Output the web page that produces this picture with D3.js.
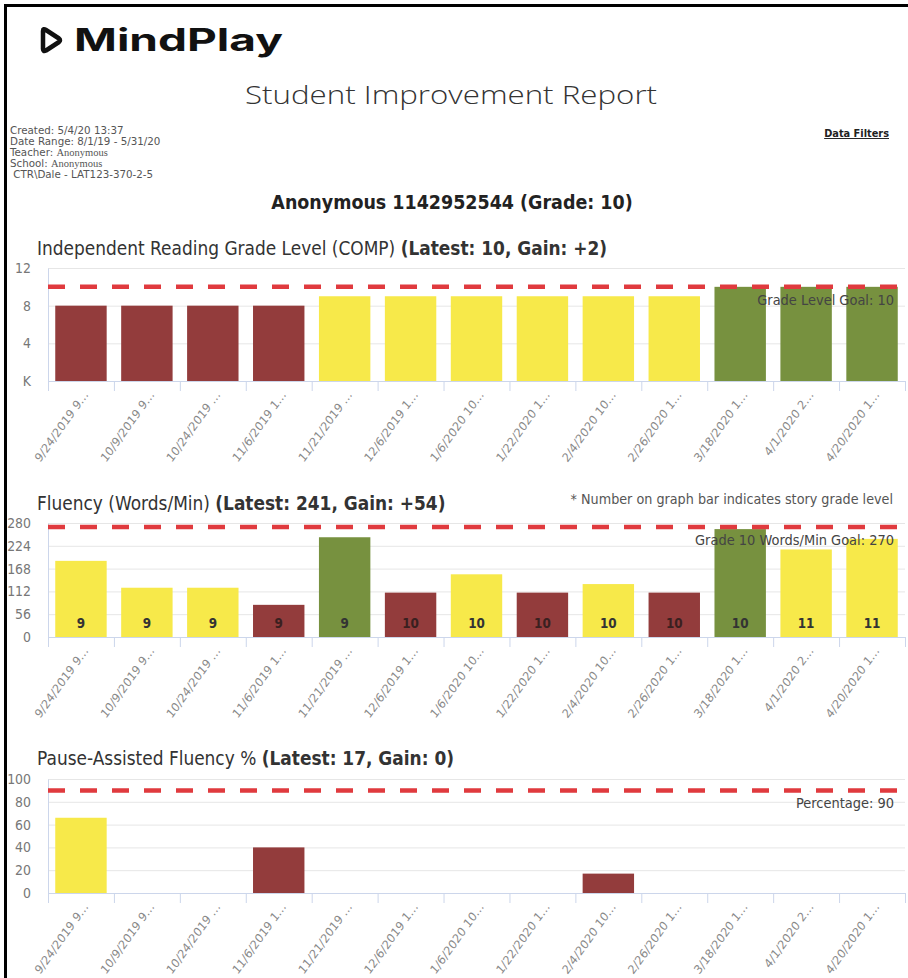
<!DOCTYPE html>
<html>
<head>
<meta charset="utf-8">
<script src="https://cdn.jsdelivr.net/npm/d3@7"></script>
<style>
  body { margin: 0; background: #fff; }
  svg { display: block; }
  text { font-family: "DejaVu Sans", sans-serif; }
</style>
</head>
<body>
<svg id="page" width="908" height="978"></svg>
<script>
// session dates (labels are cut short like in the report)
const dates = ["9/24/2019 9…", "10/9/2019 9…", "10/24/2019 …", "11/6/2019 1…", "11/21/2019 …",
  "12/6/2019 1…", "1/6/2020 10…", "1/22/2020 1…", "2/4/2020 10…", "2/26/2020 1…",
  "3/18/2020 1…", "4/1/2020 2…", "4/20/2020 1…"];

// chart 1: reading grade level
const readingLevel = [8, 8, 8, 8, 9, 9, 9, 9, 9, 9, 10, 10, 10];
const readingStatus = ["low", "low", "low", "low", "mid", "mid", "mid", "mid", "mid", "mid", "high", "high", "high"];
const readingTicks = [0, 4, 8, 12];
const readingTickLabels = ["K", "4", "8", "12"];

// chart 2: fluency words/min
const fluency = [187, 121, 121, 79, 245, 109, 154, 109, 130, 109, 265, 215, 241];
const fluencyStatus = ["mid", "mid", "mid", "low", "high", "low", "mid", "low", "mid", "low", "high", "mid", "mid"];
const storyGrade = [9, 9, 9, 9, 9, 10, 10, 10, 10, 10, 10, 11, 11];
const fluencyTicks = [0, 56, 112, 168, 224, 280];

// chart 3: pause-assisted fluency %
const pauseFluency = [66, null, null, 40, null, null, null, null, 17, null, null, null, null];
const pauseStatus = ["mid", null, null, "low", null, null, null, null, "low", null, null, null, null];
const pauseTicks = [0, 20, 40, 60, 80, 100];

const colors = { low: "#933c3c", mid: "#f7e94a", high: "#77913f" };
const S = 1.13; // the report screenshot is stretched vertically

const svg = d3.select("#page");

function stext(g, x, y, str) {
  return g.append("text")
    .attr("transform", `translate(${x},${y}) scale(1,${S})`)
    .text(str);
}

/* HEADER */
svg.append("path")
  .attr("d", "M5.5,978 V5.5 H908")
  .attr("fill", "none").attr("stroke", "#000").attr("stroke-width", 3);

svg.append("path")
  .attr("d", "M43,31 L43,49 Q43,52 46,50.5 L59,42 Q61,40 59,38.5 L46,30 Q43,28 43,31 Z")
  .attr("fill", "none").attr("stroke", "#111").attr("stroke-width", 4.5).attr("stroke-linejoin", "round");

svg.append("text")
  .attr("x", 74).attr("y", 51)
  .attr("textLength", 209).attr("lengthAdjust", "spacingAndGlyphs")
  .style("font-family", "Inter, 'DejaVu Sans', sans-serif")
  .style("font-weight", 700).style("font-size", "31px").attr("fill", "#111")
  .text("MindPlay");

stext(svg, 451, 104, "Student Improvement Report")
  .attr("text-anchor", "middle")
  .attr("textLength", 412).attr("lengthAdjust", "spacingAndGlyphs")
  .style("font-family", "'Open Sans', sans-serif").style("font-weight", 300)
  .style("font-size", "23px").attr("fill", "#333");

const meta = [["Created: 5/4/20 13:37", ""], ["Date Range: 8/1/19 - 5/31/20", ""],
  ["Teacher: ", "Anonymous"], ["School: ", "Anonymous"], [" CTR\\Dale - LAT123-370-2-5", ""]];
meta.forEach((m, i) => {
  const t = svg.append("text")
    .attr("x", 10).attr("y", 134 + i * 11)
    .style("font-size", "10.3px").attr("fill", "#555")
    .attr("xml:space", "preserve");
  t.append("tspan").text(m[0]);
  if (m[1]) t.append("tspan").style("font-family", "'Liberation Serif', serif").style("font-size", "10.5px").text(m[1]);
});

svg.append("text")
  .attr("x", 889).attr("y", 137)
  .attr("text-anchor", "end")
  .style("font-weight", 700).style("font-size", "9.8px").attr("fill", "#222")
  .style("text-decoration", "underline")
  .text("Data Filters");

stext(svg, 452, 209, "Anonymous 1142952544 (Grade: 10)")
  .attr("text-anchor", "middle")
  .style("font-weight", 700).style("font-size", "17.5px").attr("fill", "#222");

stext(svg, 893, 504, "* Number on graph bar indicates story grade level")
  .attr("text-anchor", "end").style("font-size", "12.8px").attr("fill", "#555");

/* CHARTS */
const left = 48, right = 905;

function drawChart(o) {
  const g = svg.append("g");

  const x = d3.scaleBand().domain(dates).range([left, right])
    .paddingInner(0.22).paddingOuter(0.11);
  const edges = d3.scaleLinear().domain([0, dates.length]).range([left, right]);
  const y = d3.scaleLinear().domain([0, o.yMax]).range([o.bottom, o.top]);

  // gridlines
  g.append("g")
    .attr("transform", `translate(${left},0)`)
    .call(d3.axisLeft(y).tickValues(o.ticks).tickSize(-(right - left)).tickFormat(""))
    .call(a => a.select(".domain").remove())
    .call(a => a.selectAll("line").attr("stroke", "#e6e6e6"));

  // y labels
  const ya = g.append("g")
    .attr("transform", `translate(${left},0)`)
    .call(d3.axisLeft(y).tickValues(o.ticks).tickSize(0).tickPadding(17)
      .tickFormat((d, i) => o.tickLabels ? o.tickLabels[i] : d));
  ya.select(".domain").attr("stroke", "#ccd6eb");
  ya.selectAll("text")
    .attr("transform", `scale(1,${S})`)
    .style("font-family", "'DejaVu Sans', sans-serif")
    .style("font-size", "12.5px").attr("fill", "#777");

  // bars
  const rows = o.values.map((v, i) => ({ date: dates[i], v, s: o.status[i], i }))
    .filter(d => d.v != null);
  g.selectAll("rect.bar").data(rows).enter().append("rect")
    .attr("class", "bar")
    .attr("x", d => x(d.date))
    .attr("y", d => y(d.v))
    .attr("width", x.bandwidth())
    .attr("height", d => y(0) - y(d.v))
    .attr("fill", d => colors[d.s]);

  if (o.barLabels) {
    rows.forEach(d => {
      stext(g, x(d.date) + x.bandwidth() / 2, y(0) - 9, o.barLabels[d.i])
        .attr("text-anchor", "middle")
        .style("font-weight", 700).style("font-size", "12px")
        .attr("fill", d.s === "low" ? "#3a2020" : "#333");
    });
  }

  // x axis with ticks between categories
  g.append("g")
    .attr("transform", `translate(0,${o.bottom})`)
    .call(d3.axisBottom(edges).tickValues(d3.range(dates.length + 1)).tickSize(10).tickFormat(""))
    .call(a => a.selectAll("line, .domain").attr("stroke", "#ccd6eb"));

  const xa = g.append("g")
    .attr("transform", `translate(0,${o.bottom})`)
    .call(d3.axisBottom(x).tickSize(0).tickPadding(0));
  xa.select(".domain").remove();
  xa.selectAll("text")
    .attr("x", 0).attr("y", 0).attr("dy", "0.35em")
    .attr("text-anchor", "end")
    .attr("transform", `translate(5,11) scale(1,${S}) rotate(-51)`)
    .style("font-family", "'DejaVu Sans', sans-serif")
    .style("font-size", "11px").attr("fill", "#888");

  // goal line
  g.append("line")
    .attr("x1", left).attr("x2", right)
    .attr("y1", y(o.goal)).attr("y2", y(o.goal))
    .attr("stroke", "#e03a3e").attr("stroke-width", 4.5)
    .attr("stroke-dasharray", "17,15");

  stext(g, 894, y(o.goal) + 18, o.goalLabel)
    .attr("text-anchor", "end").style("font-size", "13px").attr("fill", "#444");

  // title
  const t = stext(g, 37, o.titleY, "").style("font-size", "17px").attr("fill", "#333")
    .attr("xml:space", "preserve");
  t.append("tspan").text(o.title + " ");
  t.append("tspan").style("font-weight", 700).text(o.titleBold);
}

drawChart({
  top: 268, bottom: 381, yMax: 12, ticks: readingTicks, tickLabels: readingTickLabels,
  values: readingLevel, status: readingStatus, goal: 10, goalLabel: "Grade Level Goal: 10",
  title: "Independent Reading Grade Level (COMP)", titleBold: "(Latest: 10, Gain: +2)", titleY: 255
});

drawChart({
  top: 523, bottom: 637, yMax: 280, ticks: fluencyTicks,
  values: fluency, status: fluencyStatus, barLabels: storyGrade,
  goal: 270, goalLabel: "Grade 10 Words/Min Goal: 270",
  title: "Fluency (Words/Min)", titleBold: "(Latest: 241, Gain: +54)", titleY: 510
});

drawChart({
  top: 779, bottom: 893, yMax: 100, ticks: pauseTicks,
  values: pauseFluency, status: pauseStatus, goal: 90, goalLabel: "Percentage: 90",
  title: "Pause-Assisted Fluency %", titleBold: "(Latest: 17, Gain: 0)", titleY: 765
});
</script>
</body>
</html>
